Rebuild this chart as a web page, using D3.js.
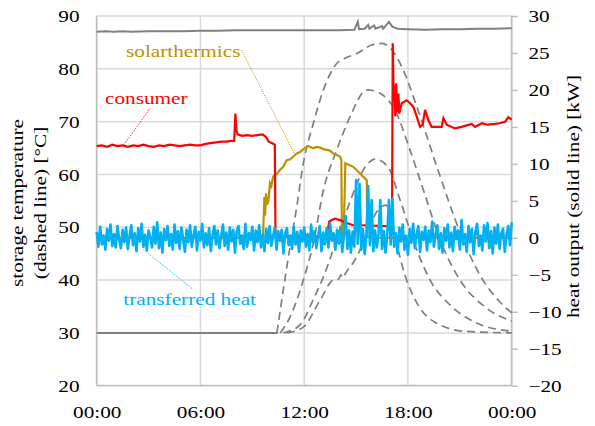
<!DOCTYPE html>
<html><head><meta charset="utf-8">
<script src="https://cdn.jsdelivr.net/npm/d3@7"></script>
<style>body{margin:0;background:#fff}svg{display:block}</style>
</head><body><svg id="c" width="595" height="426"></svg>
<script>
// ---------- data ----------
const xTicks = [0, 6, 12, 18, 24];
const xTickLabels = ["00:00", "06:00", "12:00", "18:00", "00:00"];
const leftTicks = [20, 30, 40, 50, 60, 70, 80, 90];
const rightTicks = [-20, -15, -10, -5, 0, 5, 10, 15, 20, 25, 30];

// storage temperatures [hour, °C] (left axis, dashed)
const storageBase = [[0, 30], [10.45, 30]];
const storageA = [[10.42,30],[10.79,38.1],[11.18,46.3],[11.57,53.9],[11.95,62.1],[12.53,69.7],[13.11,76.0],[13.88,81.0],[14.36,82.0],[15.04,82.9],[15.9,84.5],[16.5,84.8],[17.06,83.6],[17.64,80.4],[18.58,72.2],[19.74,60.8],[21.01,49.1],[22.17,40.9],[23.33,35.8],[24,33.8]];
const storageB = [[10.62,30],[11.18,33.0],[11.95,40.0],[12.53,47.0],[13.11,57.0],[13.88,64.6],[14.65,70.9],[15.62,76.0],[16.1,75.8],[16.56,75.0],[17.25,72.2],[18.12,64.6],[18.99,56.1],[19.86,47.6],[21.01,40.0],[22.46,34.9],[24,32.2]];
const storageC = [[10.8,30],[11.76,31.5],[12.51,36.2],[13.11,40.6],[14.36,52.3],[15.62,61.8],[16.1,62.9],[16.85,61.4],[17.54,55.2],[18.41,46.6],[19.28,40.0],[20.43,35.3],[21.88,32.0],[24,30.3]];
const storageD = [[11.0,30],[11.95,31.1],[12.92,36.2],[13.68,40.0],[14.0,40.2],[14.12,41.0],[14.24,40.4],[14.36,41.1],[15.04,44.4],[15.62,48.8],[16.27,53.3],[16.73,54.2],[17.14,49.5],[17.83,40.9],[18.58,35.3],[19.57,32.0],[21.3,30.3],[24,30.0]];

// top gray solid line [hour, °C]
const supplyTemp = [[0,87.0],[0.5,87.1],[1,87.0],[1.5,87.1],[2,87.0],[3,87.1],[4,87.1],[5,87.1],[6,87.2],[7,87.2],[8,87.3],[9,87.3],[10,87.3],[11,87.3],[12,87.3],[13,87.3],[14,87.3],[14.9,87.4],[15.1,88.9],[15.17,87.5],[15.5,87.6],[15.7,88.3],[15.77,87.6],[16.05,88.2],[16.12,87.6],[16.5,88.1],[16.57,87.6],[16.9,88.9],[17.1,88.0],[17.4,87.6],[18,87.5],[19,87.4],[20,87.5],[21,87.5],[22,87.6],[23,87.6],[24,87.7]];

// consumer heat output [hour, kW] (right axis)
const consumer = [[0,12.4],[0.3,12.5],[0.6,12.3],[0.9,12.6],[1.2,12.4],[1.5,12.5],[1.8,12.3],[2.1,12.5],[2.4,12.4],[2.7,12.6],[3.0,12.4],[3.3,12.3],[3.6,12.5],[3.9,12.4],[4.2,12.6],[4.5,12.5],[4.8,12.4],[5.1,12.5],[5.4,12.6],[5.7,12.5],[6.0,12.5],[6.3,12.7],[6.6,12.8],[6.9,12.9],[7.2,13.0],[7.5,13.0],[7.8,13.1],[7.95,13.1],[8.02,16.8],[8.08,14.5],[8.15,14.0],[8.4,13.8],[8.7,13.9],[9.0,13.8],[9.3,13.9],[9.6,14.0],[9.8,13.6],[9.95,13.0],[10.15,12.8],[10.3,12.6],[10.34,0.5],[10.6,0.2],[11.5,0.2],[12.5,0.2],[13.3,0.2],[13.45,2.2],[13.59,2.4],[13.78,2.6],[14.07,2.4],[14.46,2.0],[14.84,1.7],[15.62,1.7],[16.39,1.6],[17.08,1.6],[17.12,26.3],[17.18,18.5],[17.22,20.6],[17.27,16.4],[17.32,20.9],[17.37,17.0],[17.45,19.5],[17.5,16.8],[17.64,18.2],[17.93,18.6],[18.12,18.2],[18.31,17.7],[18.51,16.4],[18.7,15.0],[18.85,15.3],[18.99,17.3],[19.18,15.9],[19.37,15.0],[19.95,15.0],[20.05,16.2],[20.24,15.3],[20.72,14.8],[21.1,15.0],[21.4,15.2],[21.69,15.4],[21.88,15.0],[22.27,15.5],[22.6,15.3],[23.04,15.4],[23.3,15.5],[23.62,15.7],[23.8,16.3],[24,16.0]];

// solarthermics heat output [hour, kW]
const solar = [[0,0],[9.55,0],[9.62,0.5],[9.7,5.5],[9.74,3.0],[9.79,6.0],[9.85,4.5],[9.93,5.0],[10.02,7.4],[10.1,7.0],[10.21,8.3],[10.41,8.6],[10.6,9.2],[10.79,9.6],[10.99,10.5],[11.18,10.6],[11.37,11.0],[11.57,11.4],[11.76,11.6],[11.95,12.0],[12.15,12.3],[12.24,12.4],[12.53,12.1],[12.7,12.3],[12.92,12.2],[13.1,12.0],[13.3,11.9],[13.49,11.8],[13.68,11.4],[13.88,11.2],[14.07,11.0],[14.15,10.5],[14.18,0.3],[14.28,0.2],[14.33,5.0],[14.38,10.1],[14.55,9.9],[14.84,9.6],[15.23,8.7],[15.62,7.8],[15.65,0.1],[16,0],[24,0]];

// transferred heat [kW], one sample every 0.1 h from 00:00
const transferredStep = 0.1;
const transferred = [
0.8,-1.2,1.5,-0.9,0.3,-1.6,1.2,-0.4,1.8,-1.1,0.5,-1.3,1.6,-0.2,-1.4,1.1,-0.6,1.4,-1.5,0.2,1.7,-1.0,0.6,-1.8,
1.3,-0.5,1.9,-1.2,0.4,-1.7,1.0,0.1,-1.3,1.5,-0.8,2.1,-1.4,0.7,-2.0,1.2,-0.3,1.6,-1.1,0.5,-1.6,1.8,-0.7,0.9,
-1.5,1.4,-0.2,-1.9,1.1,-0.6,1.7,-1.2,0.3,1.5,-1.7,0.8,-0.4,1.9,-1.3,0.6,-1.0,1.3,-1.8,0.4,1.6,-0.9,1.0,-1.4,
0.2,1.8,-1.1,0.7,-1.6,1.4,-0.5,1.1,-2.0,0.9,1.6,-0.8,0.3,-1.5,1.9,-1.2,0.6,-0.3,1.5,-1.7,1.0,-0.6,1.7,-1.3,
0.4,-1.8,1.2,-0.7,1.6,-1.1,0.2,1.4,-1.6,0.9,-0.4,1.1,-2.1,0.6,1.3,-1.0,0.3,-1.5,1.5,-0.9,0.8,-1.9,1.0,-0.5,
1.4,-1.2,0.5,-1.7,1.8,-0.6,0.9,-1.4,0.2,1.6,-1.8,0.7,-0.9,1.3,-1.3,2.0,-0.4,0.6,-1.6,1.1,-0.8,1.5,-1.9,0.4,
2.9,-1.5,1.0,-2.0,0.8,-1.2,7.8,-0.8,7.3,-1.6,1.2,-2.2,0.5,7.0,-1.0,5.1,-1.8,1.0,-1.3,0.6,5.1,-1.5,0.9,-2.0,0.4,5.1,-0.9,
5.3,-1.2,0.6,-2.1,1.4,-0.5,1.8,-1.6,0.3,-2.3,
1.2,-0.7,1.9,-1.4,0.5,1.6,-1.9,0.8,-0.3,1.5,
-1.7,1.0,-0.6,2.2,-1.2,0.4,1.7,-1.5,0.6,-2.0,
1.3,-0.4,1.8,-1.3,0.7,-1.8,1.5,-0.2,1.0,-1.6,
2.4,-0.9,0.5,-1.9,1.6,-0.6,1.2,-2.2,0.8,1.9,
-1.1,0.3,-1.7,1.7,-0.5,2.0,-1.4,0.9,-2.1,1.4,
-0.8,1.8,-1.5,0.6,1.2,-1.9,0.4,1.6,-1.0,2.1];

const labels = {consumer: "consumer", solar: "solarthermics", transferred: "transferred heat"};

// ---------- drawing ----------
const FONT = "'Liberation Serif','Times New Roman',serif";
const FS = 17, SX = 1.25;
const svg = d3.select("#c");
const L = 96.7, R = 511.7, T = 16, B = 385.7;
const x = d3.scaleLinear().domain([0, 24]).range([L, R]);
const yL = d3.scaleLinear().domain([20, 90]).range([B, T]);
const yR = d3.scaleLinear().domain([-20, 30]).range([B, T]);
const GRID = "#d9d9d9", AXIS = "#bfbfbf";

// gridlines
svg.append("g").selectAll("line").data(leftTicks.filter(d => d > 20)).join("line")
  .attr("x1", L).attr("x2", R).attr("y1", d => yL(d)).attr("y2", d => yL(d))
  .attr("stroke", GRID).attr("stroke-width", 1.5);
svg.append("g").selectAll("line").data(xTicks.filter(d => d > 0 && d < 24)).join("line")
  .attr("x1", d => x(d)).attr("x2", d => x(d)).attr("y1", T).attr("y2", B)
  .attr("stroke", GRID).attr("stroke-width", 1.5);

// axes
const gl = svg.append("g").attr("transform", `translate(${L},0)`)
  .call(d3.axisLeft(yL).tickValues(leftTicks).tickSize(0).tickPadding(0));
const gr = svg.append("g").attr("transform", `translate(${R},0)`)
  .call(d3.axisRight(yR).tickValues(rightTicks).tickSize(6).tickPadding(0));
const gb = svg.append("g").attr("transform", `translate(0,${B})`)
  .call(d3.axisBottom(x).tickValues(xTicks).tickSize(0).tickFormat((d, i) => xTickLabels[i]));
[gl, gr, gb].forEach(g => { g.select(".domain").remove(); g.selectAll("text").attr("fill", "#000")
  .style("font-family", FONT).style("font-size", FS + "px").attr("x", null).attr("y", null).attr("dy", null); });
gr.selectAll(".tick line").attr("stroke", AXIS).attr("stroke-width", 1.5);
gl.selectAll("text").attr("text-anchor", "end").attr("transform", `translate(-17.2,5.6) scale(${SX},1)`);
gr.selectAll("text").attr("text-anchor", "start").attr("transform", `translate(16.8,5.6) scale(${SX},1)`);
gb.selectAll("text").attr("text-anchor", "middle").attr("transform", `translate(0,32.3) scale(${SX},1)`);

svg.append("line").attr("x1", L).attr("x2", L).attr("y1", T).attr("y2", B).attr("stroke", AXIS).attr("stroke-width", 1.8);
svg.append("line").attr("x1", R).attr("x2", R).attr("y1", T).attr("y2", B).attr("stroke", AXIS).attr("stroke-width", 1.8);
svg.append("line").attr("x1", L).attr("x2", R).attr("y1", B).attr("y2", B).attr("stroke", AXIS).attr("stroke-width", 1.8);

// lines
const lineL = d3.line().x(d => x(d[0])).y(d => yL(d[1]));
const smoothL = d3.line().x(d => x(d[0])).y(d => yL(d[1])).curve(d3.curveMonotoneX);
const lineR = d3.line().x(d => x(d[0])).y(d => yR(d[1]));

[storageA, storageB, storageC, storageD].forEach(s => {
  svg.append("path").datum(s).attr("d", smoothL).attr("fill", "none")
    .attr("stroke", "#7f7f7f").attr("stroke-width", 1.7).attr("stroke-dasharray", "8,5");
});
svg.append("path").datum(storageBase).attr("d", lineL).attr("fill", "none").attr("stroke", "#7f7f7f").attr("stroke-width", 2);
svg.append("path").datum(supplyTemp).attr("d", lineL).attr("fill", "none").attr("stroke", "#808080").attr("stroke-width", 2);

svg.append("path").datum(solar).attr("d", lineR).attr("fill", "none").attr("stroke", "#bf9000").attr("stroke-width", 2.2);
svg.append("path").datum(consumer).attr("d", lineR).attr("fill", "none").attr("stroke", "#ff0000").attr("stroke-width", 2.2);
const blueData = transferred.map((v, i) => [i * transferredStep, v]);
svg.append("path").datum(blueData).attr("d", lineR).attr("fill", "none").attr("stroke", "#00b0f0").attr("stroke-width", 2.6).attr("stroke-linejoin", "round");

// annotation labels + leaders
function addText(px, py, str, color, anchor, rot) {
  svg.append("text").attr("transform", `translate(${px},${py}) rotate(${rot || 0}) scale(${SX},1)`)
    .attr("text-anchor", anchor || "start").attr("fill", color)
    .style("font-family", FONT).style("font-size", FS + "px").text(str);
}
function leader(x1, y1, x2, y2, color) {
  svg.append("line").attr("x1", x1).attr("y1", y1).attr("x2", x2).attr("y2", y2)
    .attr("stroke", color).attr("stroke-width", 1).attr("stroke-dasharray", "1,1.2");
}
addText(105, 103.5, labels.consumer, "#ff0000");
leader(150, 108.5, x(1.55), yR(12.5), "#ff0000");
addText(126, 56.7, labels.solar, "#bf9000");
leader(241.5, 50, x(11.47), yR(11.2), "#bf9000");
addText(123.3, 305, labels.transferred, "#00b0f0");
leader(192, 288.5, x(2.7), yR(-1.6), "#00b0f0");

// axis titles
addText(23, 203, "storage temperature", "#000", "middle", -90);
addText(45.5, 203, "(dashed line) [°C]", "#000", "middle", -90);
addText(578.5, 196.5, "heat output (solid line) [kW]", "#000", "middle", -90);
</script></body></html>
